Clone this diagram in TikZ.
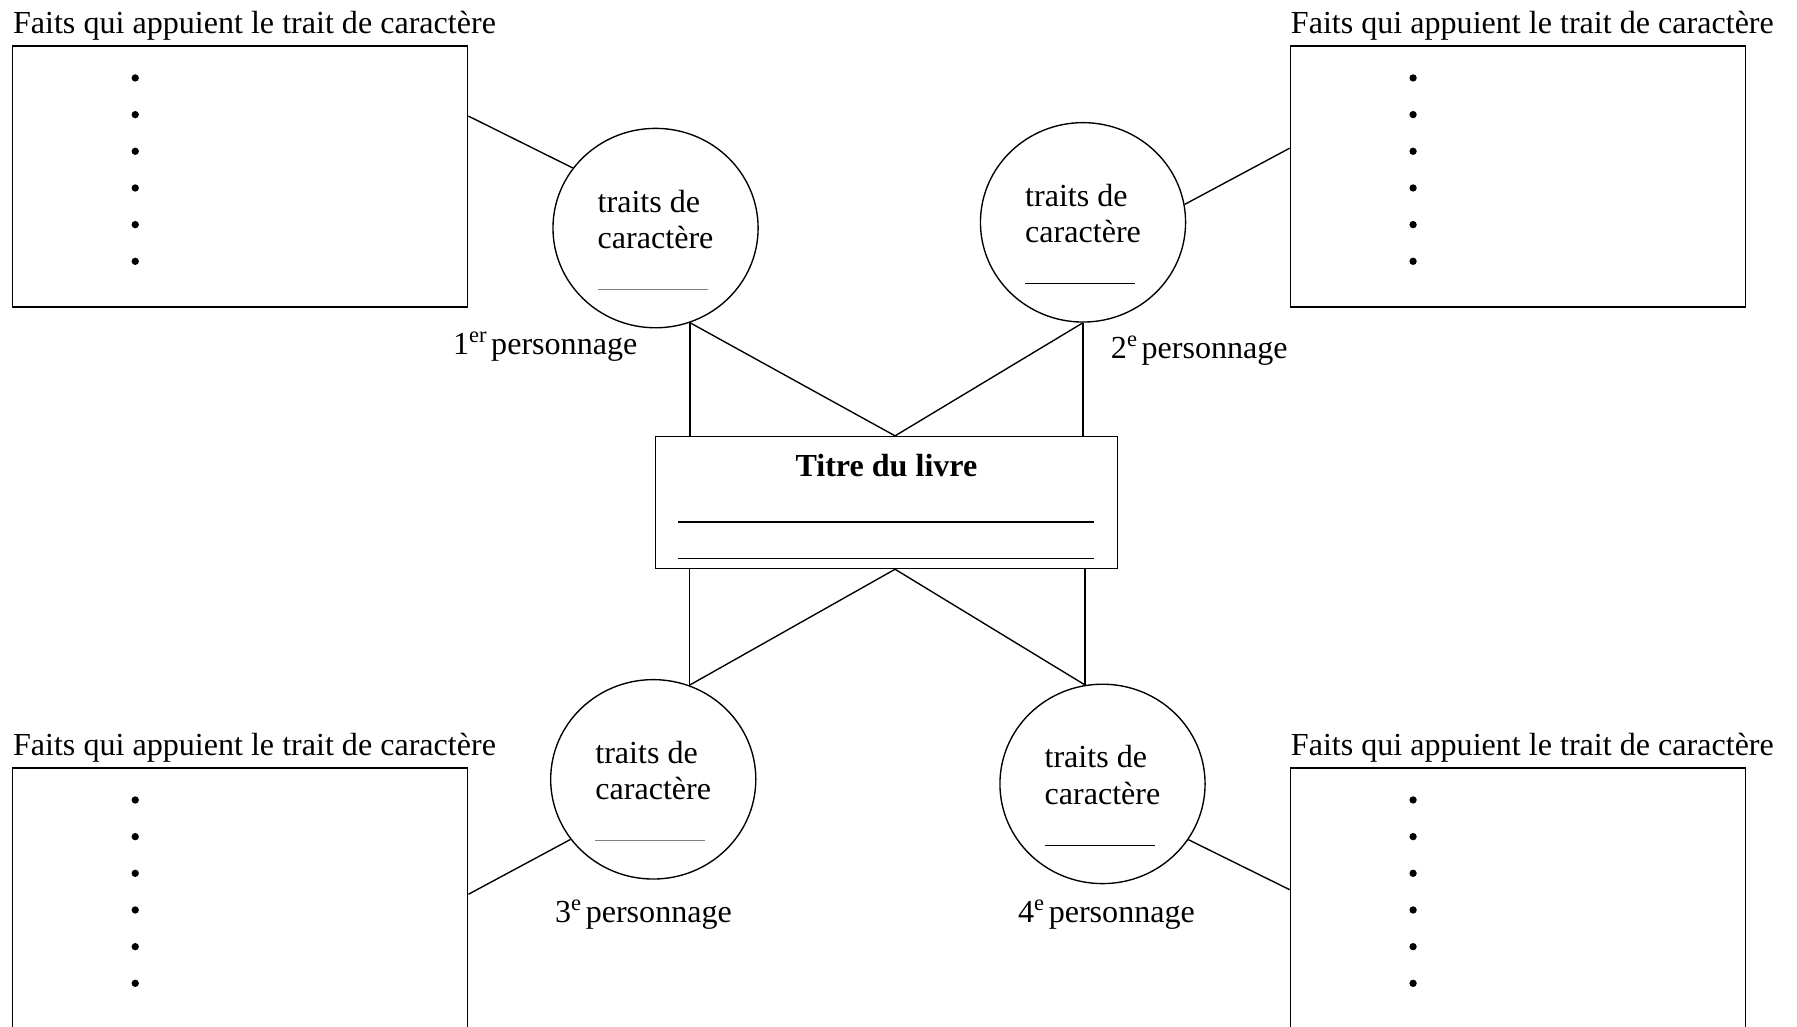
\documentclass[tikz,border=0pt]{standalone}
\usepackage{fontspec}
\setmainfont{Liberation Serif}
\usetikzlibrary{shapes.geometric}

\tikzset{
	every node/.style={font=\fontsize{14pt}{16pt}\selectfont},
	perso/.style={draw,ellipse,line width=.6pt,minimum width=89.5pt,minimum height=87pt,inner sep=0pt,align=left},
	cadre/.style={draw,line width=.7pt,minimum width=198.5pt,inner sep=0pt},
	etiq/.style={anchor=base west,inner sep=0pt},
	lien/.style={line width=.6pt}
}

\newcommand{\boitefaits}[3][]
{\begin{scope}[#1]
	\node (#2) [cadre,minimum height=#3pt] at (198.5,#3) {};
	\node (#2t) [etiq] at (0,-11) {Faits qui appuient le trait de caractère};
	\foreach \k in {0,...,5}
		\fill (107,28+32*\k) circle (1.6pt);
\end{scope}
}
\newcommand{\traitsde}[1]{\rule{0pt}{20pt}traits de\\caractère\\[2pt]\textcolor{#1}{\rule{48pt}{.5pt}}}
\newcommand{\perso}[2]{#1\textsuperscript{#2}\hspace{1.5pt}personnage}

\begin{document}
\begin{tikzpicture}[x={(.5pt,0)},y={(0,-.5pt)}]
	\useasboundingbox (0,0) rectangle (1568,896);
	\clip (0,0) rectangle (1568,896);
	\boitefaits[shift={(11,40)}]{faitsA}{114}
	\boitefaits[shift={(1126,40)}]{faitsB}{114}
	\boitefaits[shift={(11,670)}]{faitsC}{120}
	\boitefaits[shift={(1126,670)}]{faitsD}{120}
	\node (titre) [cadre,minimum width=201.5pt,minimum height=57.5pt,align=center] at (773.5,438.5)
		{\rule{0pt}{13.5pt}\textbf{Titre du livre}\\[4pt]\rule{181.5pt}{.6pt}\\\rule{181.5pt}{.6pt}};
	\node (p1) [perso] at (572,199) {\traitsde{gray}};
	\node (p2) [perso] at (945,194) {\traitsde{black}};
	\node (p3) [perso] at (570,680) {\traitsde{gray}};
	\node (p4) [perso] at (962,684) {\traitsde{black}};
	\node (n1) [etiq] at (395,309) {\perso{1}{er}};
	\node (n2) [etiq] at (969,313) {\perso{2}{e}};
	\node (n3) [etiq] at (484,805) {\perso{3}{e}};
	\node (n4) [etiq] at (888,805) {\perso{4}{e}};
	\draw [lien] ([yshift=-31pt]faitsA.north east) -- (p1.144.9);
	\draw [lien] ([yshift=-45pt]faitsB.north west) -- (p2.10.3);
	\draw [lien] ([yshift=-55.5pt]faitsC.north east) -- (p3.216.4);
	\draw [lien] ([yshift=-53.5pt]faitsD.north west) -- (p4.-33.1);
	\draw [lien] (p1.-70.6) -- (p1.-70.6 |- titre.north);
	\draw [lien] (p1.-70.6) -- ([xshift=3.75pt]titre.north);
	\draw [lien] (p2.south) -- (p2.south |- titre.north);
	\draw [lien] (p2.south) -- ([xshift=3.75pt]titre.north);
	\draw [lien] (p3.69.2) -- (p3.69.2 |- titre.south);
	\draw [lien] (p3.69.2) -- ([xshift=3.75pt]titre.south);
	\draw [lien] (p4.100.6) -- (p4.100.6 |- titre.south);
	\draw [lien] (p4.100.6) -- ([xshift=3.75pt]titre.south);
\end{tikzpicture}
\end{document}
